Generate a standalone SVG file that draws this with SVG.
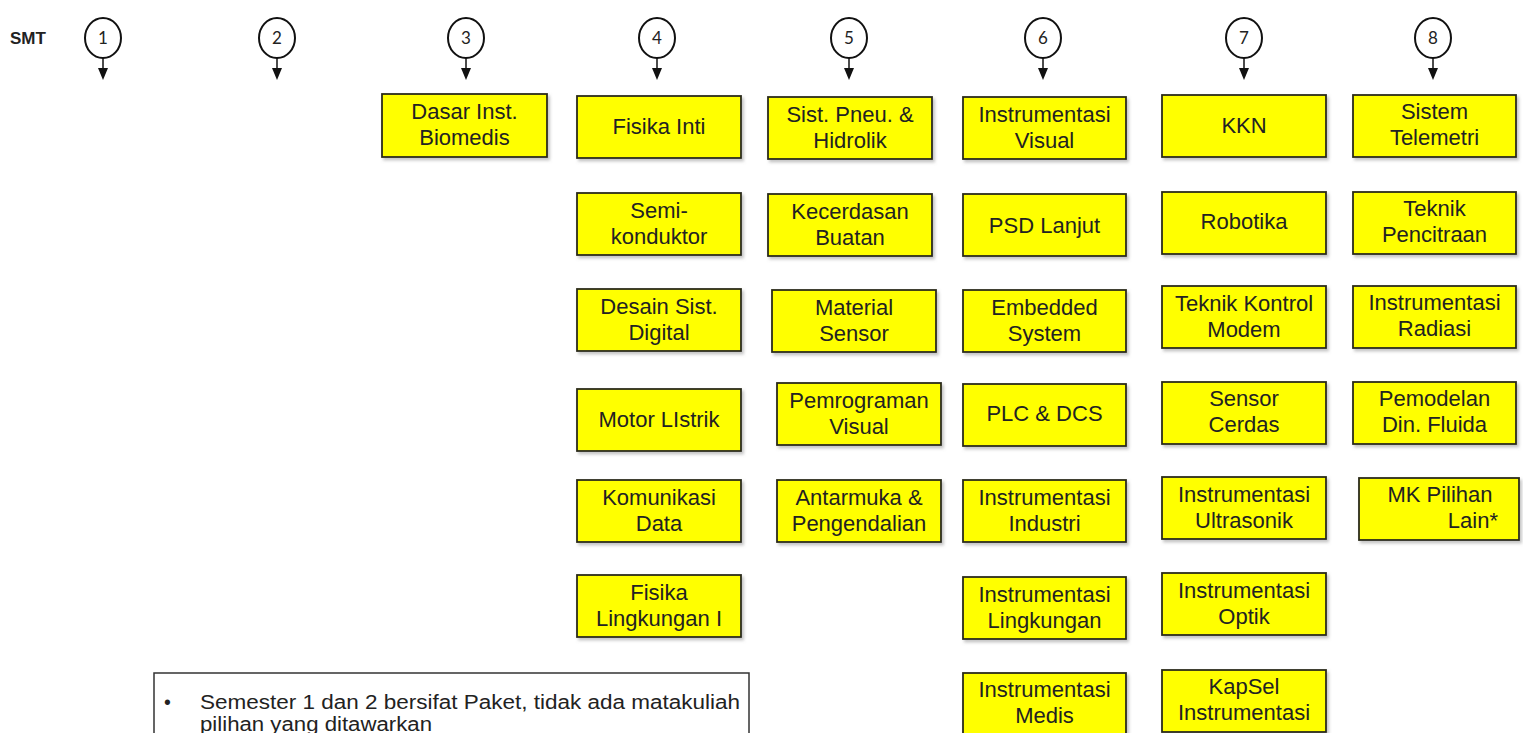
<svg xmlns="http://www.w3.org/2000/svg" width="1523" height="733" viewBox="0 0 1523 733">
<defs>
<style>
.box{fill:#ffff00;stroke:#2b2b1a;stroke-width:1.8;filter:url(#sh)}
.t{font-family:"Liberation Sans",Arial,sans-serif;font-size:22px;fill:#222;text-anchor:middle}
.c{fill:#fff;stroke:#111;stroke-width:2}
.n{font-family:Lato,"Liberation Sans",sans-serif;font-size:17px;fill:#222;text-anchor:middle}
.ar{stroke:#111;stroke-width:1.5;fill:none}
.hd{fill:#111}
.lg{font-family:"Liberation Sans",Arial,sans-serif;font-size:19.5px;fill:#222}
</style>
<filter id="sh" x="-5%" y="-10%" width="115%" height="130%">
<feDropShadow dx="2" dy="2.5" stdDeviation="1.5" flood-color="#888" flood-opacity="0.5"/>
</filter>
</defs>
<rect width="1523" height="733" fill="#fff"/>
<text x="10" y="44" style="font-family:'Liberation Sans',Arial,sans-serif;font-size:17px;font-weight:bold;fill:#222">SMT</text>

<g id="semesters">
<g id="s1"><ellipse class="c" cx="103" cy="38" rx="18" ry="20"/><text class="n" x="103" y="44">1</text></g>
<g id="s2"><ellipse class="c" cx="277" cy="38" rx="18" ry="20"/><text class="n" x="277" y="44">2</text></g>
<g id="s3"><ellipse class="c" cx="466" cy="38" rx="18" ry="20"/><text class="n" x="466" y="44">3</text></g>
<g id="s4"><ellipse class="c" cx="657" cy="38" rx="18" ry="20"/><text class="n" x="657" y="44">4</text></g>
<g id="s5"><ellipse class="c" cx="849" cy="38" rx="18" ry="20"/><text class="n" x="849" y="44">5</text></g>
<g id="s6"><ellipse class="c" cx="1043" cy="38" rx="18" ry="20"/><text class="n" x="1043" y="44">6</text></g>
<g id="s7"><ellipse class="c" cx="1244" cy="38" rx="18" ry="20"/><text class="n" x="1244" y="44">7</text></g>
<g id="s8"><ellipse class="c" cx="1433" cy="38" rx="18" ry="20"/><text class="n" x="1433" y="44">8</text></g>
</g>

<g id="connectors">
<line class="ar" x1="103" y1="58" x2="103" y2="69"/><polygon class="hd" points="98,68 108,68 103,80"/>
<line class="ar" x1="277" y1="58" x2="277" y2="69"/><polygon class="hd" points="272,68 282,68 277,80"/>
<line class="ar" x1="466" y1="58" x2="466" y2="69"/><polygon class="hd" points="461,68 471,68 466,80"/>
<line class="ar" x1="657" y1="58" x2="657" y2="69"/><polygon class="hd" points="652,68 662,68 657,80"/>
<line class="ar" x1="849" y1="58" x2="849" y2="69"/><polygon class="hd" points="844,68 854,68 849,80"/>
<line class="ar" x1="1043" y1="58" x2="1043" y2="69"/><polygon class="hd" points="1038,68 1048,68 1043,80"/>
<line class="ar" x1="1244" y1="58" x2="1244" y2="69"/><polygon class="hd" points="1239,68 1249,68 1244,80"/>
<line class="ar" x1="1433" y1="58" x2="1433" y2="69"/><polygon class="hd" points="1428,68 1438,68 1433,80"/>
</g>

<g id="dasar-inst-biomedis"><rect class="box" x="382" y="94" width="165" height="63"/><text class="t" x="464.5" y="119">Dasar Inst.</text><text class="t" x="464.5" y="145">Biomedis</text></g>

<g id="fisika-inti"><rect class="box" x="577" y="96" width="164" height="62"/><text class="t" x="659" y="134">Fisika Inti</text></g>
<g id="semikonduktor"><rect class="box" x="577" y="193" width="164" height="62"/><text class="t" x="659" y="218">Semi-</text><text class="t" x="659" y="244">konduktor</text></g>
<g id="desain-sist-digital"><rect class="box" x="577" y="289" width="164" height="62"/><text class="t" x="659" y="314">Desain Sist.</text><text class="t" x="659" y="340">Digital</text></g>
<g id="motor-listrik"><rect class="box" x="577" y="389" width="164" height="62"/><text class="t" x="659" y="427">Motor LIstrik</text></g>
<g id="komunikasi-data"><rect class="box" x="577" y="480" width="164" height="62"/><text class="t" x="659" y="505">Komunikasi</text><text class="t" x="659" y="531">Data</text></g>
<g id="fisika-lingkungan"><rect class="box" x="577" y="575" width="164" height="62"/><text class="t" x="659" y="600">Fisika</text><text class="t" x="659" y="626">Lingkungan I</text></g>

<g id="sist-pneu"><rect class="box" x="768" y="97" width="164" height="62"/><text class="t" x="850" y="122">Sist. Pneu. &amp;</text><text class="t" x="850" y="148">Hidrolik</text></g>
<g id="kecerdasan-buatan"><rect class="box" x="768" y="194" width="164" height="62"/><text class="t" x="850" y="219">Kecerdasan</text><text class="t" x="850" y="245">Buatan</text></g>
<g id="material-sensor"><rect class="box" x="772" y="290" width="164" height="62"/><text class="t" x="854" y="315">Material</text><text class="t" x="854" y="341">Sensor</text></g>
<g id="pemrograman-visual"><rect class="box" x="777" y="383" width="164" height="62"/><text class="t" x="859" y="408">Pemrograman</text><text class="t" x="859" y="434">Visual</text></g>
<g id="antarmuka"><rect class="box" x="777" y="480" width="164" height="62"/><text class="t" x="859" y="505">Antarmuka &amp;</text><text class="t" x="859" y="531">Pengendalian</text></g>

<g id="instr-visual"><rect class="box" x="963" y="97" width="163" height="62"/><text class="t" x="1044.5" y="122">Instrumentasi</text><text class="t" x="1044.5" y="148">Visual</text></g>
<g id="psd-lanjut"><rect class="box" x="963" y="194" width="163" height="62"/><text class="t" x="1044.5" y="233">PSD Lanjut</text></g>
<g id="embedded-system"><rect class="box" x="963" y="290" width="163" height="62"/><text class="t" x="1044.5" y="315">Embedded</text><text class="t" x="1044.5" y="341">System</text></g>
<g id="plc-dcs"><rect class="box" x="963" y="384" width="163" height="62"/><text class="t" x="1044.5" y="421">PLC &amp; DCS</text></g>
<g id="instr-industri"><rect class="box" x="963" y="480" width="163" height="62"/><text class="t" x="1044.5" y="505">Instrumentasi</text><text class="t" x="1044.5" y="531">Industri</text></g>
<g id="instr-lingkungan"><rect class="box" x="963" y="577" width="163" height="62"/><text class="t" x="1044.5" y="602">Instrumentasi</text><text class="t" x="1044.5" y="628">Lingkungan</text></g>
<g id="instr-medis"><rect class="box" x="963" y="673" width="163" height="62"/><text class="t" x="1044.5" y="697">Instrumentasi</text><text class="t" x="1044.5" y="723">Medis</text></g>

<g id="kkn"><rect class="box" x="1162" y="95" width="164" height="62"/><text class="t" x="1244" y="133">KKN</text></g>
<g id="robotika"><rect class="box" x="1162" y="192" width="164" height="62"/><text class="t" x="1244" y="229">Robotika</text></g>
<g id="teknik-kontrol"><rect class="box" x="1162" y="286" width="164" height="62"/><text class="t" x="1244" y="311">Teknik Kontrol</text><text class="t" x="1244" y="337">Modem</text></g>
<g id="sensor-cerdas"><rect class="box" x="1162" y="382" width="164" height="62"/><text class="t" x="1244" y="406">Sensor</text><text class="t" x="1244" y="432">Cerdas</text></g>
<g id="instr-ultrasonik"><rect class="box" x="1162" y="477" width="164" height="62"/><text class="t" x="1244" y="502">Instrumentasi</text><text class="t" x="1244" y="528">Ultrasonik</text></g>
<g id="instr-optik"><rect class="box" x="1162" y="573" width="164" height="62"/><text class="t" x="1244" y="598">Instrumentasi</text><text class="t" x="1244" y="624">Optik</text></g>
<g id="kapsel"><rect class="box" x="1162" y="670" width="164" height="62"/><text class="t" x="1244" y="694">KapSel</text><text class="t" x="1244" y="720">Instrumentasi</text></g>

<g id="sistem-telemetri"><rect class="box" x="1353" y="95" width="163" height="62"/><text class="t" x="1434.5" y="119">Sistem</text><text class="t" x="1434.5" y="145">Telemetri</text></g>
<g id="teknik-pencitraan"><rect class="box" x="1353" y="192" width="163" height="62"/><text class="t" x="1434.5" y="216">Teknik</text><text class="t" x="1434.5" y="242">Pencitraan</text></g>
<g id="instr-radiasi"><rect class="box" x="1353" y="286" width="163" height="62"/><text class="t" x="1434.5" y="310">Instrumentasi</text><text class="t" x="1434.5" y="336">Radiasi</text></g>
<g id="pemodelan"><rect class="box" x="1353" y="382" width="163" height="62"/><text class="t" x="1434.5" y="406">Pemodelan</text><text class="t" x="1434.5" y="432">Din. Fluida</text></g>
<g id="mk-pilihan"><rect class="box" x="1359" y="478" width="160" height="62"/><text class="t" x="1440" y="502">MK Pilihan</text><text class="t" x="1498" y="528" style="text-anchor:end">Lain*</text></g>

<g id="legend">
<rect x="154" y="673" width="595" height="70" fill="#fff" stroke="#333" stroke-width="1.5"/>
<text class="lg" x="164" y="709">•</text>
<text class="lg" x="200" y="709" textLength="540" lengthAdjust="spacingAndGlyphs">Semester 1 dan 2 bersifat Paket, tidak ada matakuliah</text>
<text class="lg" x="200" y="731" textLength="232" lengthAdjust="spacingAndGlyphs">pilihan yang ditawarkan</text>
</g>
</svg>
